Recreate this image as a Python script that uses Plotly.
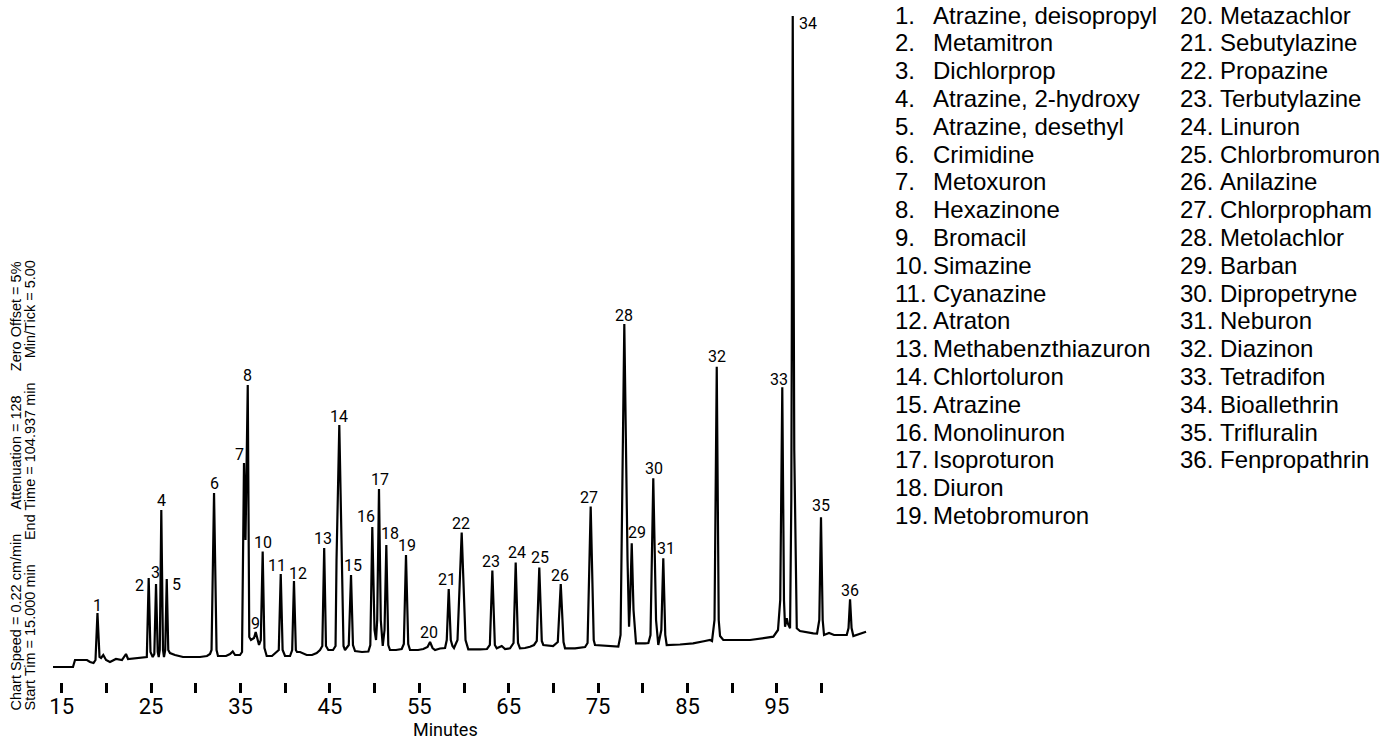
import plotly.graph_objects as go

# ---------------- data ----------------
# chromatogram trace: retention time (min) and detector response (arbitrary units)
rt_min = [
    14.03, 16.26, 16.49, 17.83, 18.17, 18.56, 18.78, 19.00, 19.23, 19.40, 19.65, 19.96,
    20.40, 21.07, 21.74, 22.19, 22.42, 23.20, 24.09, 24.52, 24.73, 24.93, 25.18, 25.36,
    25.55, 25.74, 25.85, 25.97, 26.14, 26.33, 26.44, 26.58, 26.75, 26.92, 27.11, 27.67,
    28.57, 30.47, 31.25, 31.59, 31.76, 32.04, 32.32, 32.48, 33.38, 33.83, 34.13, 34.39,
    34.94, 35.17, 35.39, 35.56, 35.81, 35.98, 36.17, 36.51, 36.70, 36.90, 37.07, 37.27,
    37.48, 37.68, 37.93, 38.52, 39.28, 39.50, 39.71, 39.98, 40.54, 40.78, 40.98, 41.19,
    41.32, 41.66, 42.40, 43.00, 43.52, 43.89, 44.15, 44.36, 44.56, 44.82, 45.35, 45.63,
    45.74, 46.05, 46.35, 46.52, 46.69, 47.11, 47.36, 47.58, 47.81, 48.59, 49.30, 49.52,
    49.74, 49.99, 50.16, 50.29, 50.49, 50.69, 50.91, 51.11, 51.31, 51.53, 51.72, 52.39,
    53.03, 53.27, 53.51, 53.76, 53.96, 54.86, 55.45, 55.92, 56.20, 56.48, 56.76, 57.32,
    57.88, 58.07, 58.29, 58.52, 58.71, 58.88, 59.27, 59.74, 60.17, 60.48, 61.79, 62.57,
    62.89, 63.17, 63.45, 63.66, 64.22, 64.59, 65.15, 65.54, 65.78, 66.04, 66.26, 66.82,
    67.38, 67.83, 68.14, 68.42, 68.70, 68.87, 69.96, 70.49, 70.82, 71.13, 71.30, 72.42,
    73.54, 73.82, 74.17, 74.51, 74.65, 75.77, 77.26, 77.51, 77.93, 78.29, 78.46, 78.59,
    78.76, 78.96, 79.24, 80.25, 80.62, 80.86, 81.17, 81.48, 81.73, 82.07, 82.29, 82.51,
    82.67, 84.16, 85.62, 86.96, 87.52, 87.74, 88.02, 88.27, 88.49, 88.64, 89.00, 90.87,
    91.99, 94.60, 94.98, 95.12, 95.37, 95.60, 95.79, 95.91, 96.10, 96.24, 96.47, 96.61,
    96.77, 96.94, 97.22, 97.58, 99.07, 99.49, 99.74, 99.93, 100.12, 100.27, 100.83, 101.39,
    102.81, 103.01, 103.18, 103.35, 103.55, 104.30, 104.97,
]
response = [
    1, 1, 8, 8, 6, 5, 8, 55, 11, 10, 13, 8,
    6, 9, 8, 14, 9, 10, 11, 11, 90, 16, 11, 14,
    84, 16, 11, 18, 158, 18, 11, 18, 89, 18, 15, 13,
    11, 11, 12, 14, 18, 175, 18, 12, 12, 14, 16.5, 13,
    13, 16, 205, 128, 283, 31, 28, 30, 36, 27, 23, 28,
    116.5, 20, 12, 12, 18, 94, 18, 12, 12, 18, 87, 18,
    16, 16, 13, 13, 15, 18, 22, 120, 22, 18, 18, 22,
    108, 243, 108, 22, 18, 23, 93, 23, 17, 16, 16.5, 23,
    141, 38, 28, 48, 179, 48, 22, 38, 123, 23, 18, 18,
    19, 24, 113, 24, 18, 18, 19, 21, 26, 20, 18, 19.5,
    20, 28, 79, 28, 22, 20, 28, 135.5, 28, 18.7, 18.7, 19,
    23, 97.5, 23, 19.7, 22, 19, 19.7, 25, 105.5, 25, 19.7, 20,
    21.3, 23, 27, 100.5, 27, 23, 22, 26, 84, 26, 19.7, 19.7,
    21, 25, 161.5, 28, 23, 22, 21.3, 33, 344, 108, 41.3, 68,
    124.7, 58, 24.7, 24.7, 25, 33, 189.7, 48, 23, 38, 109.7, 33,
    23, 23.5, 24.7, 27, 28, 27, 48, 301.3, 48, 32, 28, 28,
    28, 31.3, 36, 38, 68, 280.7, 68, 41.3, 49.7, 44, 39.7, 168,
    652, 218, 39.7, 37, 34.7, 34.5, 48, 150.7, 48, 33, 35, 33,
    33, 40, 68.7, 40, 32, 34, 36.3,
]

# labelled peaks: apex retention time and apex response
peak_no = list(range(1, 37))
peak_rt = [19.00, 24.73, 25.55, 26.14, 26.75, 32.04, 35.39, 35.81, 36.70, 37.48,
           39.50, 40.98, 44.36, 46.05, 47.36, 49.74, 50.49, 51.31, 53.51, 56.20,
           58.29, 59.74, 63.17, 65.78, 68.42, 70.82, 74.17, 77.93, 78.76, 81.17,
           82.29, 88.27, 95.60, 96.77, 99.93, 103.18]
peak_resp = [55, 90, 84, 158, 89, 175, 205, 283, 36, 116.5,
             94, 87, 120, 243, 93, 141, 179, 123, 113, 26,
             79, 135.5, 97.5, 105.5, 100.5, 84, 161.5, 344, 124.7, 189.7,
             109.7, 301.3, 280.7, 652, 150.7, 68.7]

compounds = [
    "Atrazine, deisopropyl", "Metamitron", "Dichlorprop", "Atrazine, 2-hydroxy",
    "Atrazine, desethyl", "Crimidine", "Metoxuron", "Hexazinone", "Bromacil",
    "Simazine", "Cyanazine", "Atraton", "Methabenzthiazuron", "Chlortoluron",
    "Atrazine", "Monolinuron", "Isoproturon", "Diuron", "Metobromuron",
    "Metazachlor", "Sebutylazine", "Propazine", "Terbutylazine", "Linuron",
    "Chlorbromuron", "Anilazine", "Chlorpropham", "Metolachlor", "Barban",
    "Dipropetryne", "Neburon", "Diazinon", "Tetradifon", "Bioallethrin",
    "Trifluralin", "Fenpropathrin",
]

tick_vals = [15, 20, 25, 30, 35, 40, 45, 50, 55, 60, 65, 70, 75, 80, 85, 90, 95, 100]
tick_text = ["15", "", "25", "", "35", "", "45", "", "55", "", "65", "", "75", "", "85", "", "95", ""]

GAP = "\u00a0" * 6
info_line1 = "Chart Speed = 0.22 cm/min" + GAP + "Attenuation = 128" + GAP + "Zero Offset = 5%"
info_line2 = "Start Tim = 15.000 min" + GAP + "End Time = 104.937 min" + GAP + "Min/Tick = 5.00"

# ---------------- layout / style ----------------
W, H = 1380, 742
ML, MR, MT, MB = 50, 500, 10, 60
CHART_FONT = "Roboto, Liberation Sans, Arial, sans-serif"
SANS = "Liberation Sans, Arial, sans-serif"

# label offsets (px) relative to apex: (dx, dy up)
label_off = [(0, 8), (-8.7, -7), (-1, 11.3), (0, 9.3), (9.3, -5), (0, 9.7), (-4, 9), (0, 10),
             (0, 8.7), (0, 9.2), (-3.4, 9), (3.7, 7.7), (-1.5, 9.7), (0, 8.3), (2.3, 10),
             (-6.6, 10.3), (1, 9.7), (3.7, 11.7), (1.3, 9.3), (-0.7, 9.3), (-2, 9.7), (-1, 9.2),
             (-1, 9.5), (1, 10.2), (0.7, 10.2), (-0.7, 9), (-1.4, 8.8), (0, 9), (5.6, 10.6),
             (0.7, 10), (2.7, 10), (0, 10.7), (-3, 8.3), (15.6, -7.3), (0, 11.3), (0, 9.3)]

fig = go.Figure()
fig.add_trace(go.Scatter(x=rt_min, y=response, mode="lines",
                         line=dict(color="black", width=2.2), hoverinfo="skip",
                         showlegend=False))

ann = []
for n, x, y, (dx, dy) in zip(peak_no, peak_rt, peak_resp, label_off):
    ann.append(dict(x=x, y=y, xref="x", yref="y", text=str(n), showarrow=False,
                    xanchor="center", yanchor="middle", xshift=dx, yshift=dy,
                    font=dict(family=CHART_FONT, size=16, color="black")))

# compound list
row_h = 27.8
for i, name in enumerate(compounds):
    n = i + 1
    if n <= 19:
        row = i
        num_x, name_x = 893, 931
    else:
        row = i - 19
        num_x, name_x = 1178, 1218
    cy = 15 + row * row_h
    for px, txt in ((num_x, f"{n}."), (name_x, name)):
        ann.append(dict(x=1, y=1, xref="paper", yref="paper", text=txt, showarrow=False,
                        xanchor="left", yanchor="middle",
                        xshift=px - (W - MR), yshift=-(cy - MT),
                        font=dict(family=SANS, size=24, color="black")))

# rotated run information
for cx, txt in ((15.5, info_line1), (29.5, info_line2)):
    ann.append(dict(x=0, y=0, xref="paper", yref="paper", text=txt, showarrow=False,
                    textangle=-90, xanchor="center", yanchor="middle",
                    xshift=cx - ML, yshift=(H - MB) - 486,
                    font=dict(family=SANS, size=14.5, color="black")))

# axis title
ann.append(dict(x=0, y=0, xref="paper", yref="paper", text="Minutes", showarrow=False,
                xanchor="center", yanchor="middle", xshift=445 - ML, yshift=(H - MB) - 729,
                font=dict(family=CHART_FONT, size=18, color="black")))

fig.update_layout(
    width=W, height=H,
    margin=dict(l=ML, r=MR, t=MT, b=MB, pad=0),
    paper_bgcolor="white", plot_bgcolor="white",
    showlegend=False,
    annotations=ann,
    xaxis=dict(range=[13.691, 106.53], tickmode="array", tickvals=tick_vals, ticktext=tick_text,
               ticks="outside", ticklen=10, tickwidth=3, tickcolor="black",
               ticklabelstandoff=-5,
               showline=False, showgrid=False, zeroline=False,
               tickfont=dict(family=CHART_FONT, size=22, color="black")),
    yaxis=dict(range=[-14, 658], visible=False, showgrid=False, zeroline=False),
)

fig.write_html("out.html", include_plotlyjs=True, full_html=True,
               config={"displayModeBar": False},
               post_script="document.body.style.margin='0';document.body.style.overflow='hidden';")
